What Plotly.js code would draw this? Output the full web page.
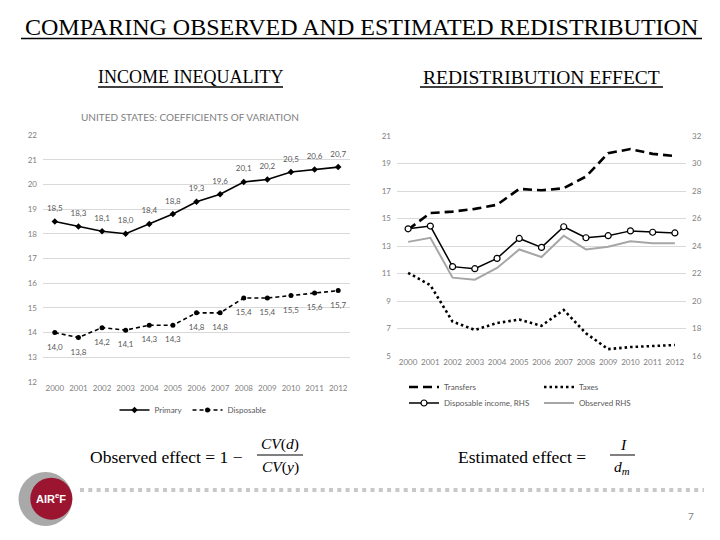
<!DOCTYPE html>
<html>
<head>
<meta charset="utf-8">
<script src="https://cdn.plot.ly/plotly-3.0.1.min.js"></script>
<style>
  html, body { margin: 0; padding: 0; background: #ffffff; }
  #chart { width: 720px; height: 540px; }
</style>
</head>
<body>
<div id="chart"></div>
<script>
// Years shared by both panels
const years = ['2000', '2001', '2002', '2003', '2004', '2005', '2006',
               '2007', '2008', '2009', '2010', '2011', '2012'];

// Income inequality: coefficients of variation
const primaryCV    = [18.5, 18.3, 18.1, 18.0, 18.4, 18.8, 19.3, 19.6, 20.1, 20.2, 20.5, 20.6, 20.7];
const disposableCV = [14.0, 13.8, 14.2, 14.1, 14.3, 14.3, 14.8, 14.8, 15.4, 15.4, 15.5, 15.6, 15.7];

// Redistribution effect (left axis)
const transfersEffect = [14.2, 15.4, 15.5, 15.7, 16.0, 17.15, 17.05, 17.2, 18.05, 19.75, 20.05, 19.7, 19.55];
const taxesEffect     = [11.05, 10.15, 7.5, 6.9, 7.4, 7.65, 7.2, 8.35, 6.65, 5.5, 5.65, 5.75, 5.8];
// Redistribution effect (right axis)
const disposableRHS = [25.25, 25.45, 22.5, 22.35, 23.1, 24.55, 23.9, 25.4, 24.6, 24.75, 25.1, 25.0, 24.95];
const observedRHS   = [24.3, 24.6, 21.7, 21.55, 22.4, 23.75, 23.2, 24.75, 23.75, 23.95, 24.35, 24.2, 24.2];

const W = 720, H = 540;
const px = x => x / W;          // page pixel -> paper x
const py = y => 1 - y / H;      // page pixel -> paper y
const fmt = v => v.toFixed(1).replace('.', ',');

const SANS = 'Lato, "Open Sans", sans-serif';
const SERIF = 'Liberation Serif, Times New Roman, serif';
const AXIS_GREY = '#808080';
const GRID = '#d9d9d9';

const traces = [
  // ---- left panel ----
  {
    x: years, y: primaryCV, name: 'Primary', type: 'scatter', mode: 'lines+markers',
    xaxis: 'x', yaxis: 'y', legend: 'legend',
    line: { color: '#000000', width: 1.6 },
    marker: { symbol: 'diamond', size: 5, color: '#000000' }
  },
  {
    x: years, y: disposableCV, name: 'Disposable', type: 'scatter', mode: 'lines+markers',
    xaxis: 'x', yaxis: 'y', legend: 'legend',
    line: { color: '#000000', width: 1.6, dash: '4px,3px' },
    marker: { symbol: 'circle', size: 5, color: '#000000' }
  },
  {
    x: years, y: primaryCV, type: 'scatter', mode: 'markers+text', showlegend: false,
    xaxis: 'x', yaxis: 'y', text: primaryCV.map(fmt), textposition: 'top center',
    textfont: { family: SANS, size: 8, color: '#595959' },
    marker: { size: 12, opacity: 0 }
  },
  {
    x: years, y: disposableCV, type: 'scatter', mode: 'markers+text', showlegend: false,
    xaxis: 'x', yaxis: 'y', text: disposableCV.map(fmt), textposition: 'bottom center',
    textfont: { family: SANS, size: 8, color: '#595959' },
    marker: { size: 16, opacity: 0 }
  },
  // ---- right panel ----
  {
    x: years, y: transfersEffect, name: 'Transfers', type: 'scatter', mode: 'lines',
    xaxis: 'x2', yaxis: 'y2', legend: 'legend2', legendrank: 1,
    line: { color: '#000000', width: 2.6, dash: '9px,5px' }
  },
  {
    x: years, y: taxesEffect, name: 'Taxes', type: 'scatter', mode: 'lines',
    xaxis: 'x2', yaxis: 'y2', legend: 'legend2', legendrank: 2,
    line: { color: '#000000', width: 2.6, dash: '2.5px,3px' }
  },
  {
    x: years, y: observedRHS, name: 'Observed RHS', type: 'scatter', mode: 'lines',
    xaxis: 'x2', yaxis: 'y3', legend: 'legend3', legendrank: 2,
    line: { color: '#a6a6a6', width: 2 }
  },
  {
    x: years, y: disposableRHS, name: 'Disposable income, RHS', type: 'scatter', mode: 'lines+markers',
    xaxis: 'x2', yaxis: 'y3', legend: 'legend3', legendrank: 1,
    line: { color: '#000000', width: 1.5 },
    marker: { symbol: 'circle', size: 6, color: '#ffffff', line: { color: '#000000', width: 1.2 } }
  }
];

const tickFont = { family: SANS, size: 8, color: AXIS_GREY };
const catAxis = (dom, anchor) => ({
  domain: dom, anchor: anchor, type: 'category', range: [-0.5, 12.5],
  showgrid: false, zeroline: false, showline: false, ticks: '', tickfont: tickFont, fixedrange: true
});
const valAxis = (dom, anchor, range, dtick) => ({
  domain: dom, anchor: anchor, range: range, tick0: range[0], dtick: dtick,
  showgrid: true, gridcolor: GRID, gridwidth: 1, zeroline: false, showline: false,
  ticks: '', tickfont: tickFont, ticklabelstandoff: 5, fixedrange: true
});

const legendBase = {
  orientation: 'h', yanchor: 'middle', bgcolor: 'rgba(0,0,0,0)', borderwidth: 0,
  font: { family: SANS, size: 8, color: '#595959' }, itemwidth: 30, traceorder: 'normal'
};

const title = (text, x, y, size) => ({
  text: text, x: px(x), y: py(y), font: { family: SERIF, size: size, color: '#000000' }
});

const layout = {
  width: W, height: H,
  margin: { l: 0, r: 0, t: 0, b: 0 },
  paper_bgcolor: '#ffffff', plot_bgcolor: '#ffffff',
  hovermode: false, showlegend: true,
  font: { family: SANS, size: 8, color: AXIS_GREY },

  xaxis: catAxis([px(43), px(350)], 'y'),
  yaxis: valAxis([py(382), py(135)], 'x', [12, 22], 1),

  xaxis2: catAxis([px(397), px(686)], 'y2'),
  yaxis2: valAxis([py(356), py(136)], 'x2', [5, 21], 2),
  yaxis3: Object.assign(valAxis([py(356), py(136)], 'x2', [16, 32], 2),
                        { overlaying: 'y2', side: 'right', showgrid: false }),

  legend:  Object.assign({}, legendBase, { x: px(193), xanchor: 'center', y: py(410) }),
  legend2: Object.assign({}, legendBase, { x: px(404), xanchor: 'left', y: py(387), entrywidth: 90 }),
  legend3: Object.assign({}, legendBase, { x: px(404), xanchor: 'left', y: py(403), entrywidth: 90 }),

  annotations: [
    title('COMPARING OBSERVED AND ESTIMATED REDISTRIBUTION', 361, 27, 24),
    title('INCOME INEQUALITY', 190, 77, 18),
    title('REDISTRIBUTION EFFECT', 541, 77, 19.5),
    { text: 'UNITED STATES: COEFFICIENTS OF VARIATION', x: px(190), y: py(117),
      font: { family: SANS, size: 10, color: AXIS_GREY } },

    { text: 'Observed effect = 1 \u2212', x: px(245), y: py(457), xanchor: 'right',
      font: { family: SERIF, size: 17.5, color: '#000000' } },
    { text: '<i>CV</i>(<i>d</i>)', x: px(280), y: py(444),
      font: { family: SERIF, size: 15.5, color: '#000000' } },
    { text: '<i>CV</i>(<i>y</i>)', x: px(280), y: py(467),
      font: { family: SERIF, size: 15.5, color: '#000000' } },

    { text: 'Estimated effect =', x: px(588), y: py(457), xanchor: 'right',
      font: { family: SERIF, size: 17.5, color: '#000000' } },
    { text: '<i>I</i>', x: px(623), y: py(444),
      font: { family: SERIF, size: 15.5, color: '#000000' } },
    { text: '<i>d</i><sub><i>m</i></sub>', x: px(622), y: py(467),
      font: { family: SERIF, size: 15.5, color: '#000000' } },

    { text: '<b>AIR<sup>e</sup>F</b>', x: px(51), y: py(498),
      font: { family: 'Liberation Sans, Arial, sans-serif', size: 11, color: '#ffffff' } },
    { text: '7', x: px(691), y: py(516),
      font: { family: SANS, size: 10, color: AXIS_GREY } }
  ].map(a => Object.assign({ xref: 'paper', yref: 'paper', showarrow: false,
                             xanchor: 'center', yanchor: 'middle' }, a)),

  shapes: [
    // heading underlines
    { type: 'line', x0: px(21), x1: px(702), y0: py(38.5), y1: py(38.5),
      line: { color: '#000000', width: 1.5 } },
    { type: 'line', x0: px(98), x1: px(283), y0: py(87), y1: py(87),
      line: { color: '#000000', width: 1.3 } },
    { type: 'line', x0: px(420), x1: px(663), y0: py(87), y1: py(87),
      line: { color: '#000000', width: 1.3 } },
    // fraction bars
    { type: 'line', x0: px(257), x1: px(303), y0: py(455), y1: py(455),
      line: { color: '#000000', width: 1 } },
    { type: 'line', x0: px(610), x1: px(635), y0: py(455), y1: py(455),
      line: { color: '#000000', width: 1 } },
    // dotted separator
    { type: 'line', x0: px(80), x1: px(704), y0: py(490), y1: py(490),
      line: { color: '#c8c8c8', width: 4, dash: '4px,4.3px' } },
    // logo
    { type: 'circle', x0: px(18.5), x1: px(72.5), y0: py(472), y1: py(526),
      fillcolor: '#a9a9a9', line: { width: 0 } },
    { type: 'circle', x0: px(30.3), x1: px(72.3), y0: py(477.7), y1: py(519.7),
      fillcolor: '#9b1530', line: { width: 0 } }
  ].map(s => Object.assign({ xref: 'paper', yref: 'paper', layer: 'below' }, s))
};

Plotly.newPlot('chart', traces, layout, { staticPlot: true, displayModeBar: false });
</script>
</body>
</html>
